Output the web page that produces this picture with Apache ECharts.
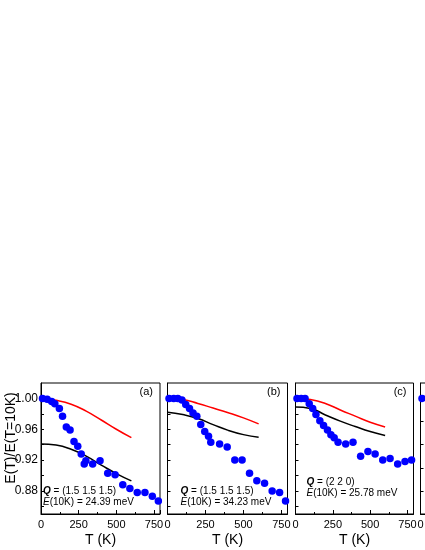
<!DOCTYPE html>
<html>
<head>
<meta charset="utf-8">
<script src="https://cdn.jsdelivr.net/npm/echarts@6/dist/echarts.min.js"></script>
<style>html,body{margin:0;padding:0;background:#fff}#c{width:425px;height:550px}</style>
</head>
<body>
<div id="c"></div>
<script>
// ---- data ----
var xTicks = [0, 250, 500, 750];
var yLabelTicks = [0.88, 0.92, 0.96, 1.00];
var yMinorTicks = [0.86, 0.88, 0.90, 0.92, 0.94, 0.96, 0.98, 1.00];
var panelLabels = ['(a)', '(b)', '(c)', '(d)'];
var qLabels = ['(1.5 1.5 1.5)', '(1.5 1.5 1.5)', '(2 2 0)'];
var eLabels = ['24.39', '34.23', '25.78'];

var expA = [[10,1.000],[41,0.999],[71,0.996],[92,0.993],[122,0.987],[143,0.977],[168,0.963],[193,0.959],[219,0.944],[244,0.938],[267,0.928],[287,0.915],[298,0.919],[343,0.915],[392,0.919],[443,0.903],[492,0.901],[543,0.888],[590,0.883],[639,0.878],[690,0.878],[739,0.873],[779,0.867]];
var redA = [[0,1.000],[100,0.9975],[200,0.9925],[300,0.9835],[400,0.972],[500,0.960],[600,0.949]];
var blackA = [[0,0.941],[100,0.9395],[200,0.934],[300,0.925],[400,0.9135],[500,0.9025],[600,0.893]];

var expB = [[10,1.000],[41,1.000],[68,1.000],[95,0.998],[120,0.992],[145,0.987],[168,0.981],[193,0.977],[219,0.966],[245,0.957],[270,0.951],[285,0.943],[343,0.941],[393,0.937],[443,0.920],[491,0.920],[540,0.903],[588,0.893],[639,0.890],[689,0.880],[738,0.878],[777,0.867]];
var redB = [[0,1.000],[100,0.9985],[200,0.9935],[300,0.9875],[400,0.9815],[500,0.9748],[600,0.967]];
var blackB = [[0,0.982],[100,0.979],[200,0.974],[300,0.966],[400,0.9585],[500,0.953],[600,0.9495]];

var expC = [[10,1.000],[38,1.000],[64,1.000],[92,0.993],[115,0.987],[137,0.979],[163,0.971],[188,0.965],[214,0.959],[237,0.953],[259,0.949],[285,0.943],[336,0.941],[385,0.943],[436,0.925],[485,0.931],[533,0.928],[584,0.920],[633,0.922],[684,0.915],[733,0.918],[777,0.920]];
var redC = [[0,1.000],[100,0.9985],[200,0.9935],[300,0.985],[400,0.977],[500,0.969],[600,0.963]];
var blackC = [[0,0.9887],[100,0.987],[200,0.9785],[300,0.9705],[400,0.9635],[500,0.957],[600,0.952]];

var expD = [[10,1.000]];
var yTicksD = [0.76, 0.82, 0.88, 0.94, 1.00];

// ---- layout ----
var FONT = 'Liberation Sans, Arial, sans-serif';
var XMAX = 790;
var grids = [
  {left: 41, top: 383, width: 119, height: 131},
  {left: 167.5, top: 383, width: 120, height: 131},
  {left: 295.5, top: 383, width: 118, height: 131},
  {left: 420.5, top: 383, width: 120, height: 131}
];
var exps = [expA, expB, expC, expD];
var reds = [redA, redB, redC, null];
var blacks = [blackA, blackB, blackC, null];

var option = {
  backgroundColor: '#fff',
  animation: false,
  grid: [], xAxis: [], yAxis: [], series: [], graphic: []
};

grids.forEach(function (g, i) {
  option.grid.push({
    left: g.left, top: g.top, width: g.width, height: g.height,
    show: true, borderColor: '#000', borderWidth: 1, backgroundColor: 'transparent',
    containLabel: false, outerBoundsMode: 'none'
  });
  option.xAxis.push({
    gridIndex: i, type: 'value', min: 0, max: XMAX, interval: 250,
    axisLine: {show: true, lineStyle: {color: '#000', width: 1}},
    axisTick: {show: true, inside: true, length: 4, lineStyle: {color: '#000'}},
    minorTick: {show: true, splitNumber: 2, length: 2, lineStyle: {color: '#000'}},
    splitLine: {show: false},
    axisLabel: {show: true, color: '#000', fontFamily: FONT, fontSize: 11, margin: 5,
      showMaxLabel: false, hideOverlap: false,
      formatter: function (v) { return xTicks.indexOf(v) >= 0 ? String(v) : ''; }},
    name: 'T (K)', nameLocation: 'middle', nameGap: 19,
    nameTextStyle: {color: '#000', fontFamily: FONT, fontSize: 14}
  });
  var isD = (i === 3);
  option.yAxis.push({
    gridIndex: i, type: 'value',
    min: isD ? 0.70 : 0.85, max: isD ? 1.04 : 1.02,
    axisLine: {show: true, lineStyle: {color: '#000', width: 1}},
    axisTick: {show: true, inside: true, length: 3, lineStyle: {color: '#000'},
      customValues: isD ? yTicksD : yMinorTicks},
    splitLine: {show: false},
    axisLabel: {show: i === 0, color: '#000', fontFamily: FONT, fontSize: 12, margin: 3,
      customValues: yLabelTicks,
      formatter: function (v) { return v.toFixed(2); }}
  });
  if (reds[i]) {
    option.series.push({type: 'line', xAxisIndex: i, yAxisIndex: i, data: reds[i], smooth: true,
      showSymbol: false, lineStyle: {color: '#ff0000', width: 1.5}, z: 2});
    option.series.push({type: 'line', xAxisIndex: i, yAxisIndex: i, data: blacks[i], smooth: true,
      showSymbol: false, lineStyle: {color: '#000000', width: 1.5}, z: 2});
  }
  option.series.push({type: 'scatter', xAxisIndex: i, yAxisIndex: i, data: exps[i],
    symbol: 'circle', symbolSize: 7.5, itemStyle: {color: '#0000ff', opacity: 1}, z: 3});

  option.graphic.push({type: 'text', x: g.left + g.width - 7, y: 392,
    style: {text: panelLabels[i], font: '11px ' + FONT, fill: '#000', align: 'right', verticalAlign: 'middle'}});
});

// annotation texts
var annPos = [[43, 491], [180.5, 491.5], [306.5, 482]];
annPos.forEach(function (p, i) {
  option.graphic.push({type: 'text', x: p[0], y: p[1],
    style: {text: '{q|Q} = ' + qLabels[i], font: '10px ' + FONT, fill: '#000', verticalAlign: 'middle',
      rich: {q: {fontWeight: 'bold', fontStyle: 'italic', fontSize: 10, fontFamily: FONT}}}});
  option.graphic.push({type: 'text', x: p[0], y: p[1] + 11,
    style: {text: '{e|E}(10K) = ' + eLabels[i] + ' meV', font: '10px ' + FONT, fill: '#000', verticalAlign: 'middle',
      rich: {e: {fontStyle: 'italic', fontSize: 10, fontFamily: FONT}}}});
});

// y axis title
option.graphic.push({type: 'text', x: 11, y: 438, rotation: Math.PI / 2,
  style: {text: 'E(T)/E(T=10K)', font: '14px ' + FONT, fill: '#000', align: 'center', verticalAlign: 'middle'}});

var chart = echarts.init(document.getElementById('c'), null, {renderer: 'canvas'});
chart.setOption(option);
</script>
</body>
</html>
